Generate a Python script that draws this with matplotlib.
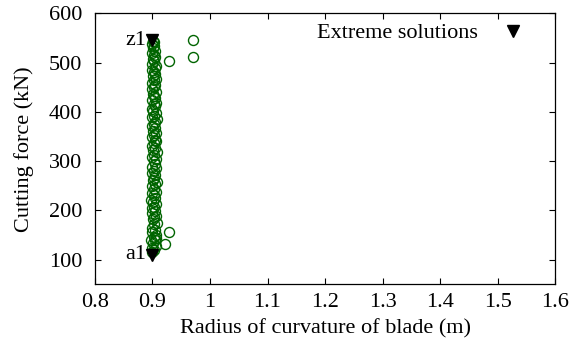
import matplotlib
matplotlib.use("Agg")
import matplotlib.pyplot as plt

# Pareto front points (radius of blade, cutting force)
front_radius = [
    0.900, 0.903, 0.899, 0.906, 0.901, 0.904, 0.898, 0.902, 0.907, 0.900,
    0.905, 0.899, 0.903, 0.908, 0.901, 0.902, 0.906, 0.899, 0.904, 0.900,
    0.903, 0.907, 0.901, 0.898, 0.905, 0.902, 0.900, 0.906, 0.903, 0.899,
    0.904, 0.908, 0.901, 0.902, 0.905, 0.900, 0.903, 0.907, 0.899, 0.904,
    0.902, 0.906, 0.900, 0.903, 0.908, 0.901, 0.905, 0.899, 0.902, 0.906,
    0.904, 0.900, 0.903, 0.907, 0.901, 0.905, 0.899, 0.902, 0.904, 0.908,
    0.900, 0.903, 0.906, 0.901, 0.899, 0.904, 0.902, 0.907, 0.900, 0.905,
    0.903, 0.901, 0.906, 0.899, 0.902, 0.904, 0.900, 0.903, 0.907, 0.901,
    0.905, 0.902, 0.899, 0.904, 0.906, 0.900, 0.903, 0.901, 0.905, 0.902,
    0.900, 0.904, 0.901, 0.903, 0.900, 0.902, 0.901,
]
front_force = [
    116, 119, 124, 128, 133, 139, 141, 147, 150, 157,
    161, 165, 172, 175, 182, 186, 188, 195, 199, 204,
    207, 213, 218, 221, 226, 231, 235, 238, 244, 249,
    253, 258, 262, 266, 271, 277, 280, 286, 289, 295,
    301, 304, 309, 313, 318, 323, 326, 331, 336, 341,
    344, 350, 353, 358, 362, 367, 371, 375, 380, 385,
    389, 392, 398, 402, 406, 411, 416, 419, 424, 428,
    433, 437, 441, 446, 451, 455, 458, 464, 467, 472,
    477, 481, 485, 490, 494, 497, 503, 507, 511, 516,
    520, 524, 529, 533, 537, 541, 544,
]
# scattered points off the main column
outlier_radius = [0.970, 0.970, 0.929, 0.929, 0.922, 0.907]
outlier_force = [545, 512, 504, 156, 132, 145]

# extreme solutions
extreme_radius = [0.9, 0.9]
extreme_force = [545, 110]
extreme_labels = ["z1", "a1"]

plt.rcParams['font.family'] = ['Liberation Serif', 'DejaVu Serif']
plt.rcParams['font.size'] = 16

fig = plt.figure(figsize=(5.82, 3.43), dpi=100)
ax = fig.add_axes([0.163, 0.171, 0.791, 0.790])

green = '#006400'
ax.plot(front_radius + outlier_radius, front_force + outlier_force, 'o',
        mfc='none', mec=green, ms=7.2, mew=1.0, linestyle='none')
ax.plot(extreme_radius, extreme_force, 'v', color='black', ms=8,
        linestyle='none', label='Extreme solutions')

for x, y, lab in zip(extreme_radius, extreme_force, extreme_labels):
    ax.text(x - 0.01, y, lab, ha='right', va='center', fontsize=16)

ax.set_xlim(0.8, 1.6)
ax.set_ylim(50, 600)
ax.set_xticks([0.8, 0.9, 1.0, 1.1, 1.2, 1.3, 1.4, 1.5, 1.6])
ax.set_xticklabels(['0.8', '0.9', '1', '1.1', '1.2', '1.3', '1.4', '1.5', '1.6'])
ax.set_yticks([100, 200, 300, 400, 500, 600])
ax.tick_params(direction='in', top=True, right=True, length=4.5, width=0.8)
ax.tick_params(axis='x', pad=6)
ax.tick_params(axis='y', pad=9)
for s in ax.spines.values():
    s.set_linewidth(0.9)

ax.set_xlabel('Radius of curvature of blade (m)', labelpad=5)
ax.set_ylabel('Cutting force (kN)', labelpad=11)

ax.legend(loc='upper right', bbox_to_anchor=(0.976, 0.998), frameon=False,
          markerfirst=False, handletextpad=0.6, borderaxespad=0, fontsize=16)

fig.savefig('out.png', dpi=100)
